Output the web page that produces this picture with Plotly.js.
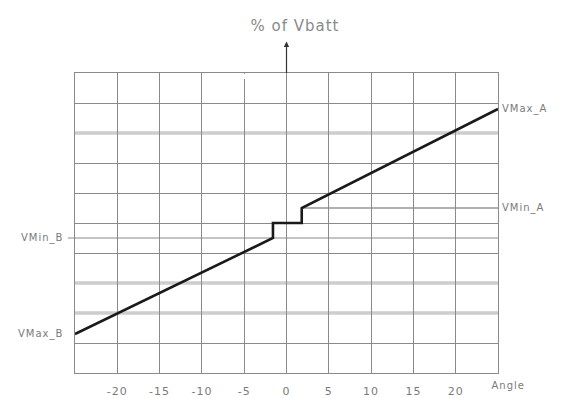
<!DOCTYPE html>
<html>
<head>
<meta charset="utf-8">
<script src="https://cdn.plot.ly/plotly-3.0.1.min.js"></script>
<style>
  html, body { margin: 0; padding: 0; background: #fff; }
  #chart { width: 561px; height: 398px; }
  .main-svg text { letter-spacing: 1px; }
</style>
</head>
<body>
<div id="chart"></div>
<script>
// Data
const angle = [-25, -1.6, -1.6, 1.8, 1.8, 25];
const vbatt = [1.3, 4.5, 5.0, 5.0, 5.5, 8.8];

const xTickVals = [-20, -15, -10, -5, 0, 5, 10, 15, 20];
const xTickText = ['-20', '-15', '-10', '-5', '0', '5', '10', '15', '20'];

const refNames = ['VMax_A', 'VMin_A', 'VMin_B', 'VMax_B'];
const refValues = [8.8, 5.5, 4.5, 1.3];
const refSide = ['right', 'right', 'left', 'left'];

// horizontal grid levels drawn as thin dark lines / as soft wide bands
const gridLevels = [1, 4, 5, 6, 7, 9];
const bandLevels = [8, 3, 2];

const textColor = '#7a7a7a';
const gridColor = '#8a8a8a';
const fontFam = 'DejaVu Sans, sans-serif';

const traces = [{
  x: angle,
  y: vbatt,
  type: 'scatter',
  mode: 'lines',
  line: { color: '#1a1a1a', width: 2.6 },
  hoverinfo: 'skip'
}];

const shapes = [];
bandLevels.forEach(v => {
  shapes.push({ type: 'line', xref: 'paper', yref: 'y', x0: 0, x1: 1, y0: v, y1: v,
    line: { color: '#cdcdcd', width: 3.5 }, layer: 'below' });
});
// VMin_A reference line (from the upper step to the right edge)
shapes.push({ type: 'line', xref: 'x', yref: 'y', x0: angle[4], x1: 25, y0: refValues[1], y1: refValues[1],
  line: { color: '#b0b0b0', width: 2.2 }, layer: 'below' });
// VMin_B reference line (from left label across plot)
shapes.push({ type: 'line', xref: 'paper', yref: 'y', x0: -0.017, x1: 1, y0: refValues[2], y1: refValues[2],
  line: { color: gridColor, width: 1 }, layer: 'below' });
// small gap at top of the -5 grid line
shapes.push({ type: 'line', xref: 'x', yref: 'y', x0: -5, x1: -5, y0: 9.8, y1: 9.97,
  line: { color: '#ffffff', width: 2 }, layer: 'above' });

const annotations = [];
refNames.forEach((n, i) => {
  annotations.push({
    text: n, xref: 'paper', yref: 'y',
    x: refSide[i] === 'right' ? 1.012 : -0.028,
    xanchor: refSide[i] === 'right' ? 'left' : 'right',
    y: refValues[i], yanchor: 'middle', showarrow: false,
    font: { family: fontFam, size: 10, color: textColor }
  });
});
// Axis label "Angle"
annotations.push({
  text: 'Angle', xref: 'paper', yref: 'paper', x: 0.985, y: -0.043,
  xanchor: 'left', yanchor: 'middle', showarrow: false,
  font: { family: fontFam, size: 10, color: textColor }
});
// y axis arrow
annotations.push({
  text: '', xref: 'x', yref: 'paper', x: 0, y: 1.105, showarrow: true,
  axref: 'pixel', ayref: 'pixel', ax: 0, ay: 33,
  arrowhead: 2, arrowsize: 0.9, arrowwidth: 1.2, arrowcolor: '#333'
});

const layout = {
  width: 561, height: 398,
  margin: { l: 75, r: 63, t: 73, b: 25 },
  paper_bgcolor: '#ffffff', plot_bgcolor: '#ffffff',
  showlegend: false,
  title: {
    text: '% of Vbatt',
    x: 0.52, xanchor: 'center', xref: 'paper',
    y: 0.935, yanchor: 'middle', yref: 'container',
    font: { family: fontFam, size: 15, color: '#8a8a8a' }
  },
  xaxis: {
    range: [-25, 25], tickvals: xTickVals, ticktext: xTickText,
    showgrid: true, gridcolor: gridColor, gridwidth: 1,
    zeroline: true, zerolinecolor: gridColor, zerolinewidth: 1,
    showline: true, linecolor: gridColor, linewidth: 1, mirror: true,
    ticks: '', ticklabelstandoff: 8,
    tickfont: { family: fontFam, size: 11, color: textColor },
    fixedrange: true
  },
  yaxis: {
    range: [0, 10], tickvals: gridLevels,
    showgrid: true, gridcolor: gridColor, gridwidth: 1,
    zeroline: false,
    showline: true, linecolor: gridColor, linewidth: 1, mirror: true,
    showticklabels: false, ticks: '',
    fixedrange: true
  },
  shapes: shapes,
  annotations: annotations
};

Plotly.newPlot('chart', traces, layout, { displayModeBar: false, staticPlot: true });
</script>
</body>
</html>
